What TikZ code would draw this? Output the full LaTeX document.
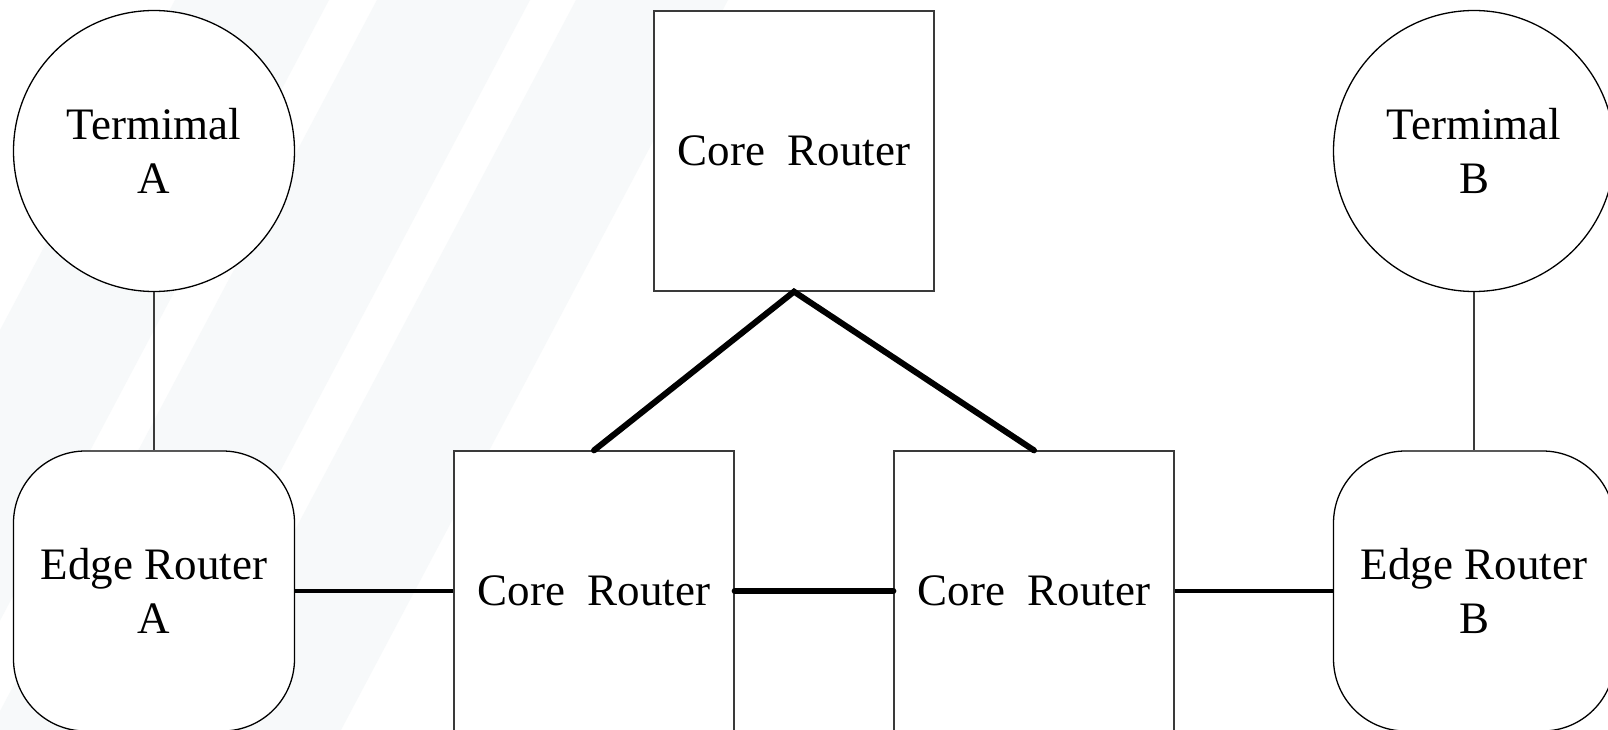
\documentclass[tikz,border=0pt]{standalone}
\usepackage{fontspec}
\setmainfont{Liberation Serif}
\definecolor{boxgray}{HTML}{3A3A3A}
\definecolor{bandtint}{HTML}{F7F9FA}
\begin{document}
\begin{tikzpicture}[x=1pt,y=-1pt,
  every node/.style={font=\fontsize{45}{54}\selectfont, align=center, inner sep=0pt},
  terminal/.style={circle, draw=black, line width=1.3pt, fill=white, minimum size=281pt},
  edgebox/.style={rectangle, rounded corners=72pt, draw=black, line width=1.3pt, fill=white,
                  minimum width=281pt, minimum height=280pt},
  corebox/.style={rectangle, draw=boxgray, line width=1.3pt, fill=white, minimum size=280pt},
  thinlink/.style={draw=boxgray, line width=1.3pt},
  link/.style={draw=black, line width=3.3pt},
  trunk/.style={draw=black, line width=6pt, line cap=round},
]
\useasboundingbox (0,0) rectangle (1608,730);

% faint diagonal background bands
\fill[white] (0,0) rectangle (1608,730);
\begin{scope}
  \clip (0,0) rectangle (1608,730);
  \fill[bandtint] (175,0) -- (329,0) -- (-58,730) -- (-212,730) -- cycle;
  \fill[bandtint] (377,0) -- (530,0) -- (143,730) -- (-10,730) -- cycle;
  \fill[bandtint] (576,0) -- (728,0) -- (341,730) -- (189,730) -- cycle;
\end{scope}

% nodes
\node[terminal] (ta) at (154,151) {Termimal\\A};
\node[terminal] (tb) at (1474,151) {Termimal\\B};
\node[edgebox]  (ea) at (154,591) {Edge Router\\A};
\node[edgebox]  (eb) at (1474,591) {Edge Router\\B};
\node[corebox]  (ct) at (794,151) {Core\ \ Router};
\node[corebox]  (cl) at (594,591) {Core\ \ Router};
\node[corebox]  (cr) at (1034,591) {Core\ \ Router};

% connectors
\draw[thinlink] (ta) -- (ea);
\draw[thinlink] (tb) -- (eb);
\draw[link] (ea) -- (cl);
\draw[link] (cr) -- (eb);
\draw[trunk] (cl.east) -- (cr.west);
\draw[trunk] (cl.north) -- (ct.south) -- (cr.north);
\end{tikzpicture}
\end{document}
